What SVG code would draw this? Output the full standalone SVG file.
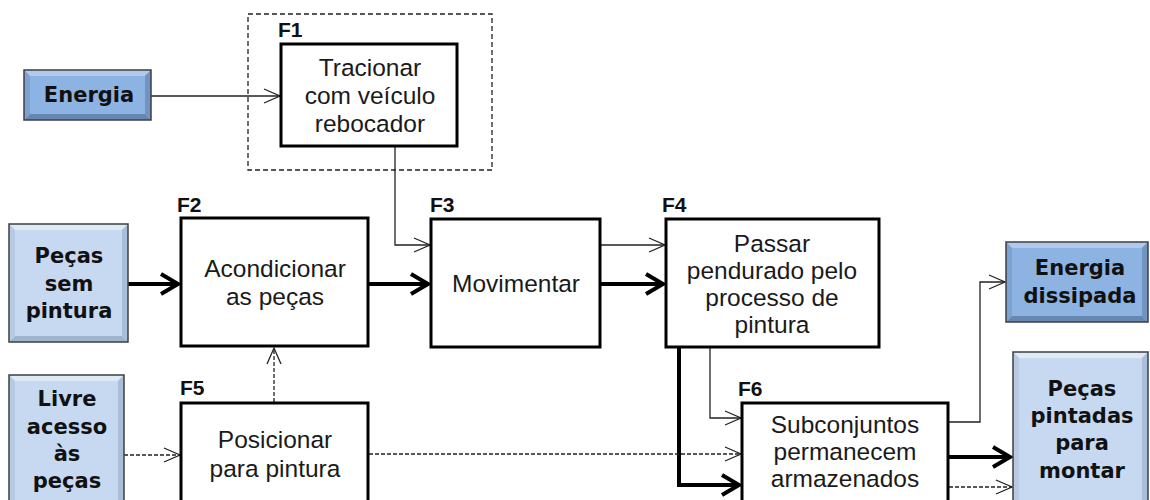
<svg xmlns="http://www.w3.org/2000/svg" width="1150" height="500" viewBox="0 0 1150 500">
<defs>
<style>
.fbox{fill:#fff;stroke:#000;stroke-width:3}
.txt{font-family:"Liberation Sans",Arial,sans-serif;font-size:24.5px;fill:#1a1a1a;text-anchor:middle}
.btxt{font-family:"DejaVu Sans",Verdana,sans-serif;font-weight:bold;font-size:21px;fill:#111;text-anchor:middle}
.lbl{font-family:"Liberation Sans",Arial,sans-serif;font-weight:bold;font-size:21px;fill:#111}
.thin{fill:none;stroke:#222;stroke-width:1.3}
.thick{fill:none;stroke:#000;stroke-width:4}
.dash{fill:none;stroke:#222;stroke-width:1.3;stroke-dasharray:4 2}
.outline{fill:none;stroke:#3f3f3f;stroke-width:1.5}
.lb-base{fill:#c6d9f1}.lb-top{fill:#dfeaf7}.lb-bot{fill:#9fb4cf}.lb-l{fill:#b6cae4}.lb-r{fill:#a9bedb}
.db-base{fill:#8db3e2}.db-top{fill:#b0caee}.db-bot{fill:#6787b3}.db-l{fill:#7da1d1}.db-r{fill:#7394c2}
</style>
<marker id="aThin" markerUnits="userSpaceOnUse" markerWidth="20" markerHeight="18" refX="17" refY="8" orient="auto" overflow="visible">
<path d="M1,1 L17,8 L1,15" fill="none" stroke="#222" stroke-width="1.3"/>
</marker>
<marker id="aThick" markerUnits="userSpaceOnUse" markerWidth="26" markerHeight="26" refX="19" refY="12" orient="auto" overflow="visible">
<path d="M2,2 L19,12 L2,22" fill="none" stroke="#000" stroke-width="4"/>
</marker>
</defs>
<rect width="1150" height="500" fill="#fff"/>

<g id="connectors">
<path class="thin" d="M151,96 H280" marker-end="url(#aThin)"/>
<path class="thin" d="M395,147 V245 H430" marker-end="url(#aThin)"/>
<path class="thick" d="M128,284 H178" marker-end="url(#aThick)"/>
<path class="thick" d="M369,284 H428" marker-end="url(#aThick)"/>
<path class="thin" d="M601,245 H665" marker-end="url(#aThin)"/>
<path class="thick" d="M601,284 H663" marker-end="url(#aThick)"/>
<path class="thin" d="M710,348 V418 H741" marker-end="url(#aThin)"/>
<path class="thick" d="M679,348 V485 H739" marker-end="url(#aThick)"/>
<path class="dash" d="M369,454 H741" marker-end="url(#aThin)"/>
<path class="dash" d="M124,455 H180" marker-end="url(#aThin)"/>
<path class="dash" d="M274,402 V348" marker-end="url(#aThin)"/>
<path class="thin" d="M949,422 H980 V282 H1005" marker-end="url(#aThin)"/>
<path class="thick" d="M949,457 H1010" marker-end="url(#aThick)"/>
<path class="dash" d="M949,487 H1012" marker-end="url(#aThin)"/>
</g>

<g id="energia">
<rect class="db-base" x="24" y="70" width="127" height="50"/>
<polygon class="db-top" points="24,70 151,70 145,76 30,76"/>
<polygon class="db-bot" points="24,120 151,120 145,114 30,114"/>
<polygon class="db-l" points="24,70 30,76 30,114 24,120"/>
<polygon class="db-r" points="151,70 145,76 145,114 151,120"/>
<rect class="outline" x="24" y="70" width="127" height="50"/>
<text class="btxt" x="89" y="102">Energia</text>
</g>

<g id="f1-group">
<rect x="248" y="14" width="244" height="156" fill="none" stroke="#222" stroke-width="1.3" stroke-dasharray="5 3"/>
</g>

<g id="f1">
<text class="lbl" x="278" y="37">F1</text>
<rect class="fbox" x="281" y="44" width="176" height="102"/>
<text class="txt" x="370" y="76">Tracionar</text>
<text class="txt" x="370" y="104">com veículo</text>
<text class="txt" x="370" y="132">rebocador</text>
</g>

<g id="pecas-sem-pintura">
<rect class="lb-base" x="9" y="224" width="119" height="118"/>
<polygon class="lb-top" points="9,224 128,224 122,230 15,230"/>
<polygon class="lb-bot" points="9,342 128,342 122,336 15,336"/>
<polygon class="lb-l" points="9,224 15,230 15,336 9,342"/>
<polygon class="lb-r" points="128,224 122,230 122,336 128,342"/>
<rect class="outline" x="9" y="224" width="119" height="118"/>
<text class="btxt" x="69" y="263">Peças</text>
<text class="btxt" x="69" y="291">sem</text>
<text class="btxt" x="69" y="318">pintura</text>
</g>

<g id="f2">
<text class="lbl" x="177" y="212">F2</text>
<rect class="fbox" x="181" y="218" width="187" height="128"/>
<text class="txt" x="275" y="277">Acondicionar</text>
<text class="txt" x="275" y="305">as peças</text>
</g>

<g id="f3">
<text class="lbl" x="430" y="212">F3</text>
<rect class="fbox" x="431" y="219" width="169" height="128"/>
<text class="txt" x="516" y="292">Movimentar</text>
</g>

<g id="f4">
<text class="lbl" x="662" y="212">F4</text>
<rect class="fbox" x="666" y="219" width="213" height="128"/>
<text class="txt" x="772" y="252">Passar</text>
<text class="txt" x="772" y="279">pendurado pelo</text>
<text class="txt" x="772" y="306">processo de</text>
<text class="txt" x="772" y="333">pintura</text>
</g>

<g id="livre-acesso">
<rect class="lb-base" x="9" y="375" width="115" height="135"/>
<polygon class="lb-top" points="9,375 124,375 118,381 15,381"/>
<polygon class="lb-l" points="9,375 15,381 15,510 9,510"/>
<polygon class="lb-r" points="124,375 118,381 118,510 124,510"/>
<rect class="outline" x="9" y="375" width="115" height="135"/>
<text class="btxt" x="67" y="406">Livre</text>
<text class="btxt" x="67" y="434">acesso</text>
<text class="btxt" x="67" y="461">às</text>
<text class="btxt" x="67" y="488">peças</text>
</g>

<g id="f5">
<text class="lbl" x="180" y="395">F5</text>
<rect class="fbox" x="181" y="403" width="187" height="110"/>
<text class="txt" x="275" y="448">Posicionar</text>
<text class="txt" x="275" y="477">para pintura</text>
</g>

<g id="f6">
<text class="lbl" x="738" y="396">F6</text>
<rect class="fbox" x="742" y="403" width="206" height="110"/>
<text class="txt" x="845" y="433">Subconjuntos</text>
<text class="txt" x="845" y="460">permanecem</text>
<text class="txt" x="845" y="487">armazenados</text>
</g>

<g id="energia-dissipada">
<rect class="db-base" x="1006" y="242" width="142" height="80"/>
<polygon class="db-top" points="1006,242 1148,242 1142,248 1012,248"/>
<polygon class="db-bot" points="1006,322 1148,322 1142,316 1012,316"/>
<polygon class="db-l" points="1006,242 1012,248 1012,316 1006,322"/>
<polygon class="db-r" points="1148,242 1142,248 1142,316 1148,322"/>
<rect class="outline" x="1006" y="242" width="142" height="80"/>
<text class="btxt" x="1080" y="275">Energia</text>
<text class="btxt" x="1080" y="303">dissipada</text>
</g>

<g id="pecas-pintadas">
<rect class="lb-base" x="1013" y="352" width="135" height="158"/>
<polygon class="lb-top" points="1013,352 1148,352 1142,358 1019,358"/>
<polygon class="lb-l" points="1013,352 1019,358 1019,510 1013,510"/>
<polygon class="lb-r" points="1148,352 1142,358 1142,510 1148,510"/>
<rect class="outline" x="1013" y="352" width="135" height="158"/>
<text class="btxt" x="1082" y="396">Peças</text>
<text class="btxt" x="1082" y="423">pintadas</text>
<text class="btxt" x="1082" y="450">para</text>
<text class="btxt" x="1082" y="478">montar</text>
</g>
</svg>
